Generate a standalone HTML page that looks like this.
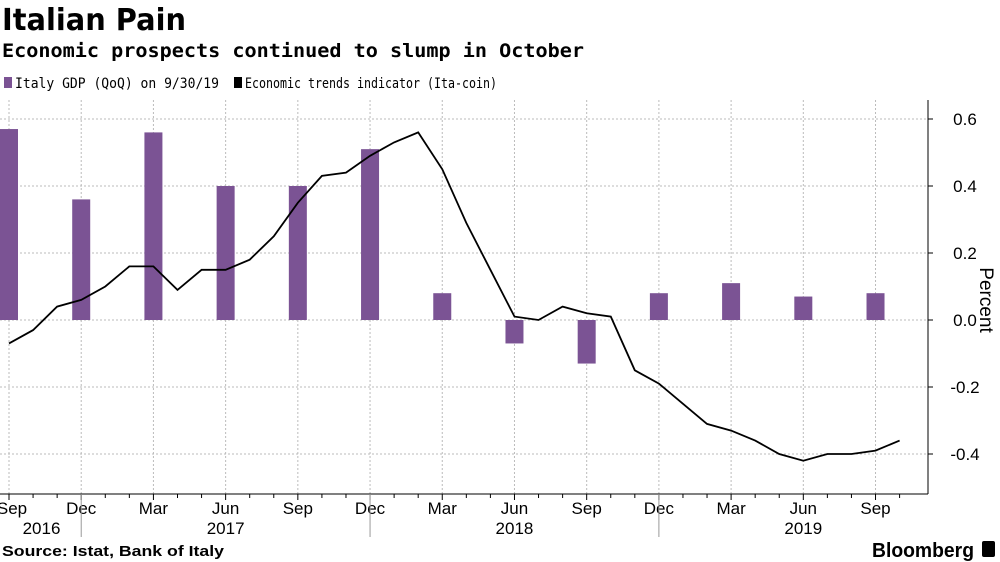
<!DOCTYPE html>
<html><head><meta charset="utf-8"><style>
body{margin:0;background:#fff;font-family:"Liberation Sans Narrow","Liberation Sans",sans-serif;}
svg{display:block}
</style></head><body>
<svg width="1000" height="562" viewBox="0 0 1000 562">
<text x="2" y="30" font-size="30" font-weight="bold" fill="#000" font-family="DejaVu Sans, sans-serif" textLength="184" lengthAdjust="spacingAndGlyphs">Italian Pain</text>
<text x="2" y="57" font-size="19" font-weight="bold" fill="#000" font-family="DejaVu Sans Mono, monospace" textLength="582" lengthAdjust="spacingAndGlyphs">Economic prospects continued to slump in October</text>
<g font-size="14" font-family="DejaVu Sans Mono, monospace">
<rect x="4" y="77" width="8" height="11" fill="#7b5394"/>
<text x="15" y="88" textLength="204" lengthAdjust="spacingAndGlyphs">Italy GDP (QoQ) on 9/30/19</text>
<rect x="234" y="77" width="8" height="11" fill="#000"/>
<text x="245" y="88" textLength="252" lengthAdjust="spacingAndGlyphs">Economic trends indicator (Ita-coin)</text>
</g>
<g id="grid"></g>
<g id="bars"></g>
<g id="line"></g>
<g id="axes"></g>
<text x="2" y="556" font-size="15" font-weight="bold" textLength="222" lengthAdjust="spacingAndGlyphs">Source: Istat, Bank of Italy</text>
<text x="872" y="557" font-size="20" font-weight="bold" textLength="102" lengthAdjust="spacingAndGlyphs">Bloomberg</text>
<rect x="982" y="541" width="13" height="16" rx="2" fill="#000"/>
</svg>
<script>
const quarterLabels=["Sep","Dec","Mar","Jun","Sep","Dec","Mar","Jun","Sep","Dec","Mar","Jun","Sep"];
const gdpValues=[0.57,0.36,0.56,0.40,0.40,0.51,0.08,-0.07,-0.13,0.08,0.11,0.07,0.08];
const itacoinValues=[-0.07,-0.03,0.04,0.06,0.10,0.16,0.16,0.09,0.15,0.15,0.18,0.25,0.35,0.43,0.44,0.49,0.53,0.56,0.45,0.29,0.15,0.01,0.0,0.04,0.02,0.01,-0.15,-0.19,-0.25,-0.31,-0.33,-0.36,-0.40,-0.42,-0.40,-0.40,-0.39,-0.36];
const yTicks=[-0.4,-0.2,0.0,0.2,0.4,0.6];
const yTickLabels=["-0.4","-0.2","0.0","0.2","0.4","0.6"];
const yearLabels=["2016","2017","2018","2019"];
const yearCenterQuarter=[0.45,3,7,11];
const yearSepQuarter=[1,5,9];
const NS="http://www.w3.org/2000/svg";
const X0=9,MW=24.07,PLOT_R=928,PLOT_T=100,AX_Y=494;
function xm(m){return X0+m*MW;}
function y(v){return 320-v*335;}
function mk(tag,attrs,parent){const e=document.createElementNS(NS,tag);for(const k in attrs)e.setAttribute(k,attrs[k]);parent.appendChild(e);return e;}
const grid=document.getElementById('grid'),bars=document.getElementById('bars'),line=document.getElementById('line'),axes=document.getElementById('axes');
yTicks.forEach((t,i)=>{
 const l=mk('line',{x1:0,x2:PLOT_R,y1:y(t),y2:y(t),stroke:'#bbb','stroke-dasharray':'2,2'},grid);
 
 
 mk('line',{x1:PLOT_R,x2:PLOT_R+5,y1:y(t),y2:y(t),stroke:'#000'},axes);
 const tx=mk('text',{x:PLOT_R+37,y:y(t)+6,'font-size':17,'text-anchor':'middle'},axes);
 tx.textContent=yTickLabels[i];
 
 
});
quarterLabels.forEach((lab,i)=>{
 const x=xm(i*3);
 const g=mk('line',{x1:x,x2:x,y1:PLOT_T,y2:AX_Y,stroke:'#bbb','stroke-dasharray':'2,2'},grid);
 
 
 const tx=mk('text',{x:Math.max(x,12),y:514,'font-size':17,'text-anchor':'middle'},axes);
 tx.textContent=lab;
 
 
 const v=gdpValues[i];
 const r=mk('rect',{x:x-9,width:18,y:Math.min(y(v),y(0)),height:Math.abs(y(v)-y(0)),fill:'#7b5394'},bars);
 
 
});
for(let m=0;m<itacoinValues.length;m++){
 mk('line',{x1:xm(m),x2:xm(m),y1:AX_Y,y2:AX_Y+(m%3===0?6:4),stroke:'#000'},axes);
}
mk('line',{x1:0,x2:PLOT_R,y1:AX_Y,y2:AX_Y,stroke:'#000'},axes);
mk('line',{x1:PLOT_R,x2:PLOT_R,y1:PLOT_T,y2:AX_Y,stroke:'#000'},axes);
yearSepQuarter.forEach(q=>{
 const s=mk('line',{x1:xm(q*3),x2:xm(q*3),y1:AX_Y,y2:537,stroke:'#999'},axes);
 
 
});
yearLabels.forEach((lab,i)=>{
 const t=mk('text',{x:xm(yearCenterQuarter[i]*3),y:534,'font-size':17,'text-anchor':'middle'},axes);
 t.textContent=lab;
 
 
});
const pts=itacoinValues.map((v,m)=>xm(m).toFixed(1)+','+y(v).toFixed(1)).join(' ');
const pl=mk('polyline',{points:pts,fill:'none',stroke:'#000','stroke-width':1.8},line);


const yt=mk('text',{x:0,y:0,'font-size':19,transform:'translate(980,300) rotate(90)','text-anchor':'middle'},axes);
yt.textContent='Percent';


</script>
</body></html>
